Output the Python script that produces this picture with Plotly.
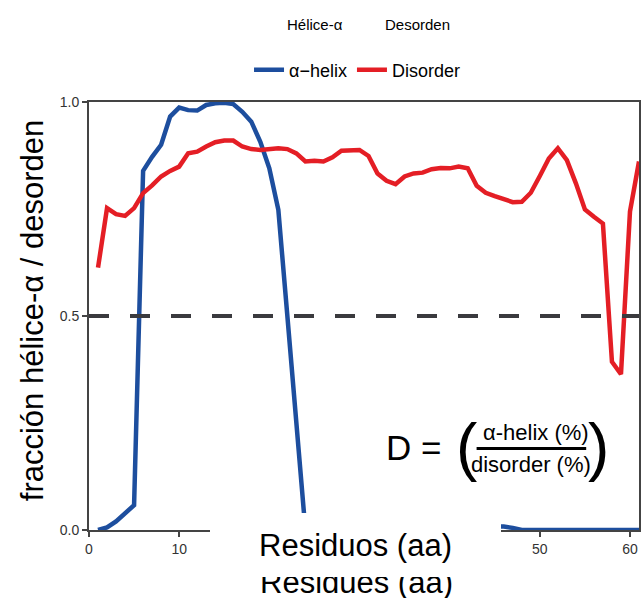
import plotly.graph_objects as go

# ---- data ----
residues = list(range(1, 62))
helix = [0.0, 0.006, 0.02, 0.038, 0.058, 0.839, 0.872, 0.90, 0.966, 0.987,
         0.981, 0.98, 0.993, 0.997, 0.998, 0.995, 0.977, 0.954, 0.907, 0.845,
         0.748, 0.50, 0.25, 0.0, 0.0, 0.0, 0.0, 0.0, 0.0, 0.0,
         0.0, 0.0, 0.0, 0.0, 0.0, 0.0, 0.0, 0.0, 0.0, 0.0,
         0.0, 0.0, 0.0, 0.0, 0.008, 0.008, 0.005, 0.0, 0.0, 0.0,
         0.0, 0.0, 0.0, 0.0, 0.0, 0.0, 0.0, 0.0, 0.0, 0.0, 0.0]
disorder = [0.613, 0.752, 0.738, 0.734, 0.752, 0.787, 0.805, 0.826, 0.839, 0.849,
            0.880, 0.884, 0.896, 0.906, 0.910, 0.910, 0.896, 0.890, 0.888, 0.889,
            0.892, 0.890, 0.880, 0.861, 0.863, 0.861, 0.871, 0.886, 0.888, 0.888,
            0.874, 0.833, 0.816, 0.808, 0.826, 0.833, 0.835, 0.843, 0.846, 0.845,
            0.849, 0.845, 0.804, 0.788, 0.780, 0.773, 0.766, 0.767, 0.788, 0.827,
            0.868, 0.892, 0.864, 0.810, 0.749, 0.732, 0.716, 0.393, 0.364, 0.744,
            0.861]
threshold = 0.5
x_ticks = [0, 10, 20, 30, 40, 50, 60]
y_ticks = [0.0, 0.5, 1.0]

FONT = "Arial, Liberation Sans, sans-serif"
W, H = 643, 598
L, R, T, B = 89, 2, 102, 68
PW, PH = W - L - R, H - T - B


def px(x):
    return (x - L) / PW


def py(y):
    return (H - B - y) / PH


fig = go.Figure()
fig.add_trace(go.Scatter(x=residues, y=helix, mode="lines", name="α−helix",
                         line=dict(color="#1d4e9e", width=4.5)))
fig.add_trace(go.Scatter(x=residues, y=disorder, mode="lines", name="Disorder",
                         line=dict(color="#e41e25", width=4.5)))

fig.add_shape(type="line", xref="x", yref="y", x0=0, x1=61, y0=threshold, y1=threshold,
              line=dict(color="#3a3a3e", width=4, dash="20px,21px"), layer="above")

# fraction bar
fig.add_shape(type="line", xref="paper", yref="paper", x0=px(478), x1=px(588),
              y0=py(448.5), y1=py(448.5), line=dict(color="black", width=3))


def note(text, x, y, size, **kw):
    d = dict(text=text, x=px(x), y=py(y), xref="paper", yref="paper", showarrow=False,
             xanchor="center", yanchor="middle",
             font=dict(family=FONT, size=size, color="black"))
    d.update(kw)
    return d


ann = [
    note("Residues (aa)", 357, 582, 31),
    note("Residuos (aa)", 356.5, 545, 31, width=291, height=64, bgcolor="white",
         borderpad=0, borderwidth=0),
    note("fracción hélice-α / desorden", 32, 310, 31, textangle=-90),
    note("Hélice-α", 316, 24, 15),
    note("Desorden", 419, 24, 15),
    note("D =", 415, 447, 35),
    note("(", 468, 447, 64),
    note(")", 600, 447, 64),
    note("α-helix (%)", 538, 432, 22),
    note("disorder (%)", 533, 464, 22),
]

fig.update_layout(
    width=W, height=H, margin=dict(l=L, r=R, t=T, b=B),
    paper_bgcolor="white", plot_bgcolor="white",
    font=dict(family=FONT, color="black"),
    showlegend=True,
    legend=dict(orientation="h", x=px(358), y=py(70), xanchor="center", yanchor="middle",
                xref="paper", yref="paper", font=dict(family=FONT, size=18, color="black"),
                itemwidth=30, bgcolor="rgba(0,0,0,0)"),
    annotations=ann,
)
fig.update_xaxes(range=[0, 61], tickvals=x_ticks, showgrid=False, zeroline=False,
                 showline=True, linecolor="#444", linewidth=2, mirror=True,
                 ticks="outside", ticklen=5, tickcolor="#444", tickwidth=1.5,
                 tickfont=dict(family=FONT, size=14, color="#333"), layer="below traces")
fig.update_yaxes(range=[0, 1], tickvals=y_ticks, tickformat=".1f", showgrid=False,
                 zeroline=False, showline=True, linecolor="#444", linewidth=2, mirror=True,
                 ticks="outside", ticklen=5, tickcolor="#444", tickwidth=1.5,
                 tickfont=dict(family=FONT, size=14, color="#333"))

fig.write_html("out.html", config={"displayModeBar": False},
               post_script="document.body.style.margin='0';document.body.style.overflow='hidden';")
